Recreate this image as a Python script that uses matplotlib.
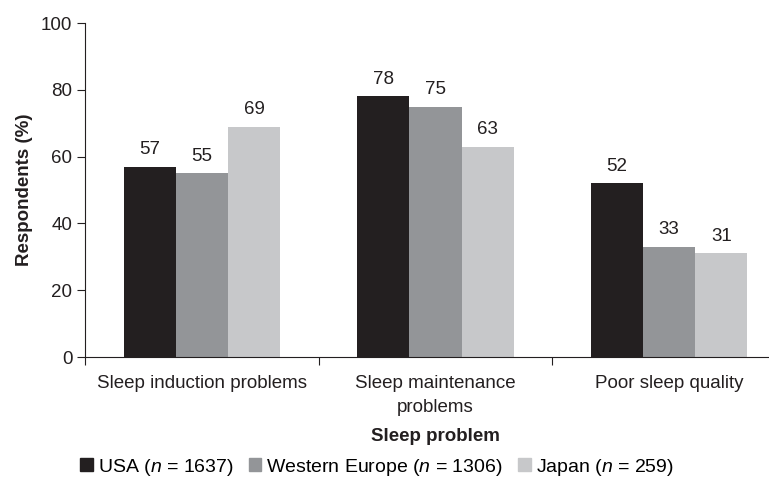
import numpy as np
import matplotlib.pyplot as plt
from matplotlib.patches import Patch

plt.rcParams['font.family'] = 'Liberation Sans'
plt.rcParams['mathtext.fontset'] = 'custom'
plt.rcParams['mathtext.it'] = 'Liberation Sans:italic'
plt.rcParams['mathtext.rm'] = 'Liberation Sans'

# Data
problems = ['Sleep induction problems', 'Sleep maintenance\nproblems', 'Poor sleep quality']
regions = ['USA ($n$ = 1637)', 'Western Europe ($n$ = 1306)', 'Japan ($n$ = 259)']
usa = [57, 78, 52]
europe = [55, 75, 33]
japan = [69, 63, 31]
colors = ['#231f20', '#939598', '#c7c8ca']

fig = plt.figure(figsize=(7.69, 4.79), dpi=100)
ax = fig.add_axes([85 / 769, 122 / 479, 701 / 769, 334 / 479])

x = np.arange(len(problems))
w = 0.223
for i, (vals, c) in enumerate(zip([usa, europe, japan], colors)):
    bars = ax.bar(x + (i - 1) * w, vals, w, color=c)
    for b, v in zip(bars, vals):
        ax.annotate(str(v), (b.get_x() + b.get_width() / 2, v), xytext=(0, 6),
                    textcoords='offset points', ha='center', va='bottom',
                    fontsize=13.5, color='#231f20')

ax.set_xlim(-0.5, 2.5)
ax.set_ylim(0, 100)
ax.set_yticks([0, 20, 40, 60, 80, 100])
ax.tick_params(axis='y', labelsize=13.5, length=6, width=0.8, colors='#231f20', pad=3)

# boundary ticks between groups, labels on group centres
ax.set_xticks([-0.5, 0.5, 1.5, 2.5])
ax.set_xticklabels([])
ax.set_xticks(x, minor=True)
ax.set_xticklabels(problems, minor=True, fontsize=13.5, color='#231f20', linespacing=1.5)
ax.tick_params(axis='x', which='major', length=6, width=0.8, colors='#231f20')
ax.tick_params(axis='x', which='minor', length=0, pad=13)

for s in ['top', 'right']:
    ax.spines[s].set_visible(False)
for s in ['left', 'bottom']:
    ax.spines[s].set_linewidth(0.8)
    ax.spines[s].set_color('#231f20')

ax.set_ylabel('Respondents (%)', fontsize=13.5, fontweight='bold', color='#231f20', labelpad=6)
ax.set_xlabel('Sleep problem', fontsize=13.5, fontweight='bold', color='#231f20', labelpad=9)

handles = [Patch(color=c) for c in colors]
fig.legend(handles, regions, loc='center left', bbox_to_anchor=(80 / 769, 1 - 467 / 479),
           ncol=3, frameon=False, fontsize=14, handlelength=0.65, handleheight=0.65,
           handletextpad=0.25, columnspacing=0.8, borderpad=0, borderaxespad=0)

fig.savefig('out.png', dpi=100)
